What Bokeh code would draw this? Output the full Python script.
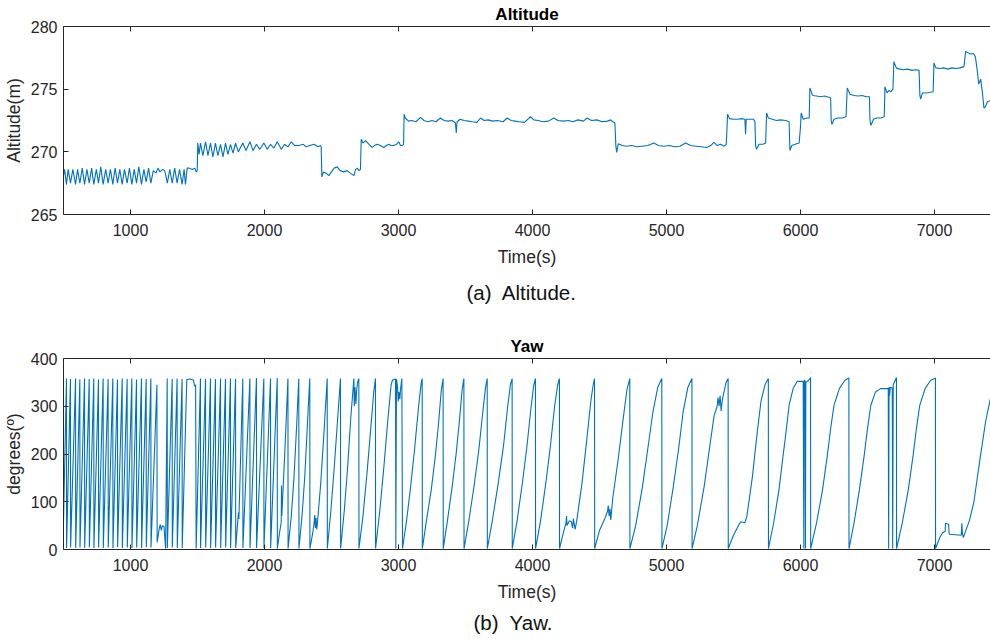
from bokeh.plotting import figure
from bokeh.models import LinearAxis, FixedTicker, Title, Range1d
from bokeh.layouts import column
from bokeh.embed import file_html
from bokeh.resources import INLINE

# ---------------- data ----------------
x_ticks = [1000, 2000, 3000, 4000, 5000, 6000, 7000]
alt_ticks = [265, 270, 275, 280]
yaw_ticks = [0, 100, 200, 300, 400]

alt_time = [
    500, 508, 522, 535, 552, 570, 590, 605, 622, 640, 657, 675, 692, 710, 726, 745,
    761, 778, 796, 815, 833, 850, 868, 885, 903, 920, 938, 955, 975, 992, 1010, 1028,
    1045, 1062, 1082, 1100, 1117, 1135, 1152, 1170, 1190, 1205, 1220, 1240, 1255, 1262,
    1275, 1293, 1311, 1330, 1348, 1366, 1385, 1400, 1410, 1423, 1440, 1460, 1480, 1490, 1498,
    1502, 1512, 1522, 1540, 1560, 1578, 1597, 1615, 1634, 1652, 1672, 1690, 1709, 1727,
    1746, 1765, 1784, 1805, 1838, 1862, 1891, 1915, 1940, 1965, 1995, 2020, 2045, 2070,
    2095, 2125, 2150, 2175, 2200, 2225, 2256, 2290, 2310, 2338, 2370, 2400, 2418,
    2423, 2428, 2440, 2460, 2480, 2500, 2520, 2542, 2565, 2590, 2617, 2640, 2667, 2680,
    2692, 2705, 2716, 2722, 2735, 2754, 2780, 2803, 2820, 2841, 2865, 2891, 2910, 2928,
    2945, 2965, 2985, 3002, 3015, 3027, 3038,
    3042, 3050, 3075, 3100, 3130, 3164, 3190, 3220, 3250, 3280, 3313, 3340, 3370, 3400,
    3425, 3431, 3437, 3460, 3490, 3520, 3550, 3585, 3612, 3640, 3670, 3700, 3740, 3780,
    3811, 3840, 3870, 3900, 3940, 3985, 4010, 4040, 4080, 4120, 4159, 4190, 4230, 4270,
    4300, 4340, 4380, 4408, 4440, 4480, 4520, 4560, 4582, 4600, 4615,
    4622, 4628, 4640, 4670, 4700, 4740, 4780, 4820, 4860, 4906, 4940, 4980, 5020, 5060,
    5100, 5142, 5180, 5220, 5260, 5300, 5330, 5354, 5380, 5403, 5430, 5446,
    5452, 5456, 5470, 5500, 5530, 5560, 5585, 5590, 5595, 5620, 5650, 5660, 5665, 5672,
    5690, 5720, 5740, 5747, 5760, 5790, 5820, 5850, 5890, 5915, 5921, 5935, 5960, 5990,
    6000, 6005, 6020, 6050, 6065, 6070, 6090, 6120, 6150, 6180, 6210, 6225, 6229, 6235,
    6250, 6280, 6310, 6340, 6349, 6370, 6400, 6430, 6460, 6490, 6515, 6518, 6525, 6545,
    6570, 6600, 6625, 6630, 6645, 6660, 6675, 6690, 6697, 6715, 6740, 6770, 6800, 6830,
    6860, 6885, 6891, 6897, 6910, 6940, 6970, 6990, 6996, 7010, 7040, 7070, 7100, 7130,
    7160, 7190, 7220, 7232, 7250, 7270, 7290, 7305, 7319, 7330, 7345, 7360, 7369, 7380,
    7395, 7420,
]
alt_m = [
    268.1, 268.6, 267.4, 268.6, 267.5, 268.6, 267.4, 268.6, 267.5, 268.7, 267.4, 268.6, 267.5, 268.7, 267.4, 268.6,
    267.5, 268.8, 267.4, 268.6, 267.5, 268.6, 267.4, 268.7, 267.5, 268.6, 267.4, 268.6, 267.5, 268.7, 267.4, 268.6,
    267.5, 268.8, 267.4, 268.6, 267.6, 268.7, 267.5, 268.5, 268.3, 268.7, 268.4, 268.6, 268.5, 268.2,
    267.5, 268.6, 267.5, 268.7, 267.5, 268.6, 267.4, 268.6, 267.4, 268.7, 268.7, 268.6, 268.7, 268.4, 268.5,
    270.7, 269.8, 270.7, 269.7, 270.8, 269.7, 270.7, 269.6, 270.7, 269.7, 270.6, 269.6, 270.7, 269.8,
    270.6, 269.9, 270.7, 270.0, 270.7, 270.1, 270.8, 270.1, 270.6, 270.2, 270.7, 270.2, 270.6, 270.3,
    270.8, 270.2, 270.6, 270.4, 270.8, 270.5, 270.5, 270.6, 270.4, 270.5, 270.6, 270.4, 270.5,
    270.4, 268.0, 268.4, 268.3, 268.1, 268.4, 268.7, 268.8, 268.5, 268.4, 268.5, 268.3, 268.1, 268.6,
    268.7, 268.5, 268.6, 271.0, 270.7, 270.9, 270.6, 270.35, 270.5, 270.6, 270.5, 270.35, 270.5, 270.6,
    270.5, 270.5, 270.6, 270.8, 270.5, 270.5, 270.6,
    273.0, 272.7, 272.45, 272.5, 272.4, 272.75, 272.5, 272.4, 272.5, 272.4, 272.7, 272.5, 272.45, 272.5,
    272.3, 271.5, 272.4, 272.6, 272.5, 272.45, 272.4, 272.35, 272.7, 272.5, 272.55, 272.45, 272.5, 272.4,
    272.7, 272.5, 272.45, 272.4, 272.35, 272.8, 272.55, 272.5, 272.4, 272.45, 272.7, 272.5, 272.45, 272.5,
    272.4, 272.55, 272.45, 272.7, 272.5, 272.55, 272.4, 272.45, 272.55, 272.4, 272.3,
    270.5, 269.95, 270.65, 270.5, 270.45, 270.5, 270.4, 270.45, 270.5, 270.7, 270.5, 270.45, 270.5, 270.4,
    270.45, 270.7, 270.5, 270.45, 270.4, 270.35, 270.5, 270.75, 270.5, 270.6, 270.45, 270.6,
    272.0, 273.0, 272.65, 272.6, 272.6, 272.65, 272.6, 271.4, 272.6, 272.6, 272.6, 272.4, 270.5, 270.2,
    270.6, 270.6, 270.7, 273.1, 272.7, 272.6, 272.5, 272.55, 272.5, 272.4, 270.1, 270.5, 270.6, 270.7,
    272.0, 273.1, 272.6, 272.7, 272.7, 275.1, 274.5, 274.45, 274.4, 274.45, 274.35, 274.3, 272.5, 272.2,
    272.6, 272.7, 272.7, 272.8, 275.1, 274.6, 274.5, 274.45, 274.5, 274.4, 274.4, 272.6, 272.1, 272.6,
    272.7, 272.7, 272.8, 275.2, 274.7, 274.9, 274.8, 275.0, 277.2, 276.7, 276.6, 276.55, 276.6, 276.5,
    276.55, 276.5, 274.5, 274.2, 274.7, 274.7, 274.75, 274.8, 277.1, 276.7, 276.65, 276.7, 276.6, 276.7,
    276.65, 276.7, 276.8, 278.0, 277.9, 277.8, 277.85, 277.6, 276.5, 275.4, 275.8, 274.5, 273.5, 273.6,
    274.0, 274.1,
]

yaw_time = [
    500, 522, 523,
    552, 553, 590, 591, 622, 623, 657, 658, 692, 693, 726, 727, 761, 762, 796, 797,
    833, 834, 868, 869, 903, 904, 938, 939, 975, 976, 1010, 1011, 1045, 1046, 1082, 1083,
    1117, 1118, 1152, 1153,
    1197, 1199, 1215, 1222, 1230, 1238, 1250, 1262, 1274, 1275,
    1311, 1312, 1348, 1349, 1385, 1386,
    1420, 1440, 1470, 1478, 1486, 1490,
    1522, 1523, 1560, 1561, 1597, 1598, 1634, 1635, 1672, 1673, 1709, 1710, 1746, 1747, 1784, 1785,
    1803, 1806, 1809, 1838, 1839,
    1891, 1892, 1940, 1941, 1995, 1996, 2045, 2046, 2095, 2096,
    2115, 2125, 2127, 2129, 2135, 2150, 2165, 2175, 2176,
    2200, 2220, 2240, 2256, 2257,
    2280, 2300, 2320, 2338, 2339,
    2360, 2370, 2375, 2380, 2385, 2390, 2395, 2420, 2445, 2468, 2469,
    2495, 2520, 2545, 2567, 2568,
    2595, 2620, 2645, 2667, 2670, 2675, 2682, 2688, 2695, 2704, 2705,
    2735, 2765, 2795, 2815, 2828, 2829,
    2860, 2890, 2920, 2945, 2955, 2978, 2980, 2985, 2993, 2998, 3003, 3010, 3015, 3025, 3030,
    3060, 3090, 3120, 3150, 3170, 3177, 3178,
    3210, 3245, 3275, 3300, 3318, 3333, 3334,
    3365, 3400, 3430, 3455, 3475, 3488, 3489,
    3525, 3565, 3600, 3630, 3650, 3662, 3663,
    3700, 3745, 3785, 3815, 3835, 3848, 3849,
    3885, 3925, 3960, 3990, 4010, 4022, 4023,
    4060, 4100, 4135, 4165, 4188, 4201, 4202,
    4230, 4250, 4254, 4258, 4275, 4290, 4300, 4305, 4318, 4330, 4370, 4405, 4435, 4453, 4463, 4464,
    4500, 4540, 4560, 4565, 4572, 4578, 4584, 4600, 4640, 4675, 4705, 4726, 4727,
    4770, 4820, 4860, 4900, 4935, 4965, 4966,
    5005, 5050, 5090, 5125, 5160, 5190, 5191,
    5230, 5280, 5320, 5355, 5378, 5385, 5392, 5400, 5408, 5415, 5425, 5445, 5460, 5461,
    5500, 5540, 5555, 5585, 5600, 5640, 5675, 5705, 5735, 5760, 5761,
    5800, 5840, 5870, 5895, 5915, 5945, 5975, 6020, 6025, 6028, 6035, 6037, 6040, 6060, 6075, 6076,
    6120, 6165, 6200, 6225, 6250, 6290, 6330, 6361, 6362,
    6400, 6440, 6475, 6500, 6525, 6560, 6597, 6655, 6658, 6661, 6665, 6670, 6685, 6688, 6692, 6716, 6717,
    6760, 6805, 6840, 6865, 6890, 6930, 6970, 7007, 7008,
    7040, 7060, 7080, 7082, 7105, 7110, 7200, 7204, 7208, 7215, 7260, 7293, 7343, 7381, 7420,
]
yaw_deg = [
    57, 358, 3,
    357, 4, 358, 3, 356, 4, 358, 3, 357, 5, 358, 3, 356, 4, 358, 3,
    357, 4, 358, 3, 356, 5, 358, 3, 357, 4, 358, 3, 356, 4, 358, 3,
    357, 5, 358, 4,
    345, 15, 45, 52, 40, 50, 48, 2, 358, 3,
    357, 4, 358, 3, 357, 3,
    356, 357, 355, 342, 345, 2,
    358, 3, 357, 4, 358, 3, 357, 4, 358, 3, 357, 4, 358, 3, 357, 3,
    68, 78, 64, 358, 3,
    358, 3, 359, 3, 358, 3, 358, 3, 359, 2,
    40, 57, 134, 70, 105, 195, 290, 358, 2,
    70, 150, 260, 358, 2,
    70, 150, 260, 358, 2,
    35, 55, 72, 45, 66, 42, 55, 140, 250, 358, 2,
    80, 170, 270, 358, 2,
    80, 170, 280, 358, 300, 340, 305, 335, 350, 358, 2,
    70, 160, 260, 330, 358, 2,
    80, 170, 270, 345, 355, 357, 2, 357, 340, 310, 330, 315, 335, 358, 2,
    60, 130, 210, 300, 350, 358, 2,
    63, 126, 196, 267, 330, 358, 2,
    60, 130, 200, 270, 335, 358, 2,
    60, 135, 210, 290, 340, 358, 2,
    60, 140, 220, 300, 345, 358, 2,
    60, 140, 220, 300, 345, 358, 2,
    60, 140, 220, 300, 345, 358, 2,
    35, 55, 70, 50, 60, 58, 45, 65, 42, 60, 140, 230, 310, 345, 358, 2,
    40, 65, 80, 92, 70, 85, 62, 110, 190, 270, 335, 358, 2,
    50, 130, 210, 290, 340, 358, 2,
    50, 130, 210, 290, 340, 358, 2,
    50, 130, 210, 280, 300, 318, 300, 322, 290, 310, 325, 350, 358, 2,
    30, 52, 58, 56, 70, 150, 240, 310, 345, 358, 2,
    56, 126, 196, 253, 302, 337, 352, 352, 2, 355, 352, 2, 350, 354, 360, 2,
    56, 126, 196, 253, 302, 337, 354, 359, 2,
    56, 126, 196, 253, 302, 330, 337, 337, 2, 340, 322, 340, 338, 2, 345, 360, 2,
    56, 126, 196, 253, 302, 337, 354, 359, 2,
    25, 35, 38, 55, 53, 32, 30, 55, 35, 25, 60, 98, 196, 267, 320,
]

# ---------------- styling ----------------
FONT = "Liberation Sans"
AX = "#262626"
LINE = "#0072BD"


def style_axis(ax, ticks, labels=True):
    ax.ticker = FixedTicker(ticks=ticks)
    ax.axis_line_color = AX
    ax.axis_line_width = 1
    ax.major_tick_line_color = AX
    ax.major_tick_in = 5
    ax.major_tick_out = 0
    ax.minor_tick_line_color = None
    ax.major_label_text_font = FONT
    ax.major_label_text_font_size = "16px"
    if labels:
        ax.major_label_text_color = AX
        ax.major_label_standoff = 9
    else:
        ax.major_label_text_color = None
        ax.major_label_standoff = 0
    ax.axis_label_text_font = FONT
    ax.axis_label_text_font_size = "17.5px"
    ax.axis_label_text_font_style = "normal"
    ax.axis_label_text_color = AX


def make_panel(title, ylab, caption, y0, y1, yt, t, v, height, top_b, bottom_b,
               cap_gap, cap_left):
    p = figure(width=990, height=height, x_range=Range1d(500, 7418), y_range=Range1d(y0, y1),
               output_backend="svg", toolbar_location=None,
               min_border_left=63, min_border_right=0, min_border_top=top_b,
               min_border_bottom=bottom_b, x_axis_label="Time(s)", y_axis_label=ylab)
    p.title.text = title
    p.title.align = "center"
    p.title.text_font = FONT
    p.title.text_font_size = "17px"
    p.title.text_font_style = "bold"
    p.title.text_color = "#000000"
    p.title.standoff = 5
    p.grid.visible = False
    p.outline_line_color = None
    p.background_fill_color = "white"
    p.border_fill_color = "white"
    style_axis(p.xaxis[0], x_ticks)
    p.xaxis[0].axis_label_standoff = 8
    style_axis(p.yaxis[0], yt)
    p.yaxis[0].major_label_standoff = 6
    p.yaxis[0].axis_label_standoff = 4
    top = LinearAxis()
    style_axis(top, x_ticks, labels=False)
    p.add_layout(top, "above")
    p.add_layout(Title(text=caption, align="left", offset=cap_left, text_font=FONT,
                       text_font_size="20.5px", text_font_style="normal",
                       text_color="#111111", standoff=cap_gap), "below")
    p.line(t, v, line_color=LINE, line_width=1.1)
    return p


p1 = make_panel("Altitude", "Altitude(m)", "(a)\u00a0 Altitude.", 265, 280, alt_ticks,
                alt_time, alt_m, 330, 25, 116, 18, 403)
p2 = make_panel("Yaw", "degrees(\u00ba)", "(b)\u00a0 Yaw.", 0, 400, yaw_ticks,
                yaw_time, yaw_deg, 309, 28, 90, 8, 410)

layout = column(p1, p2, spacing=0)
open("out.html", "w").write(file_html(layout, INLINE))
